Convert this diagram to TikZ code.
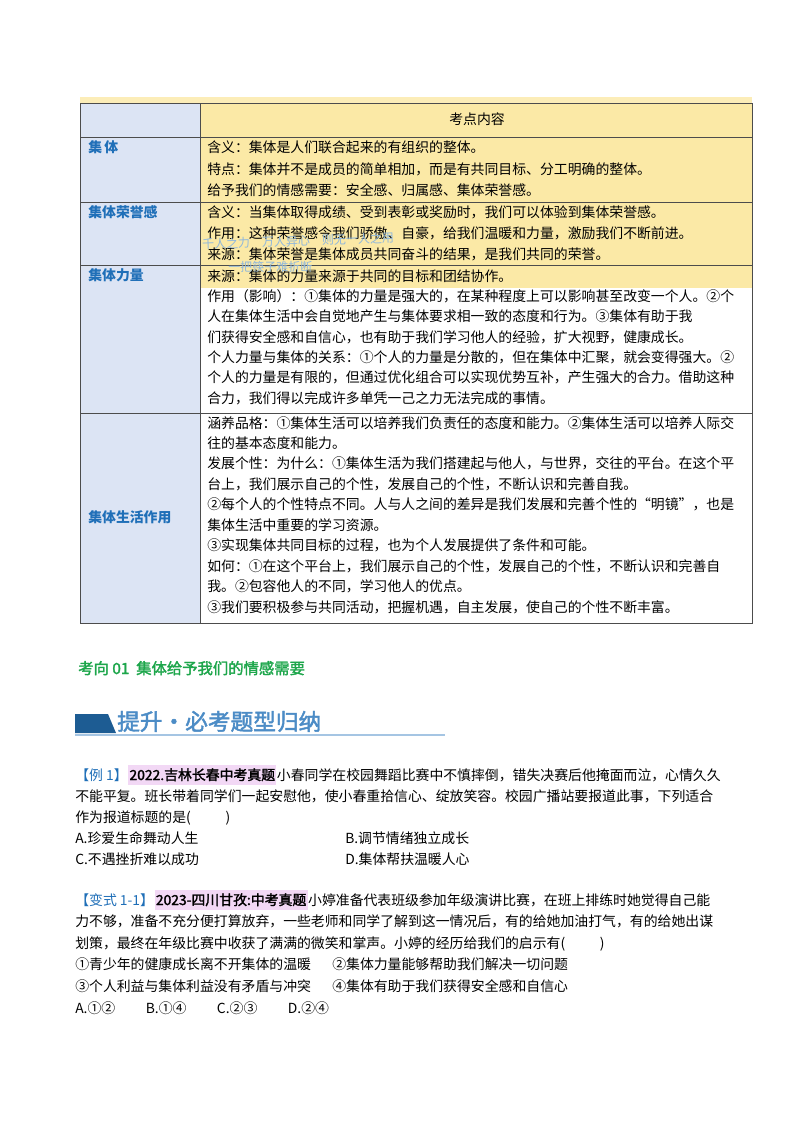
\documentclass[tikz,border=0pt]{standalone}
\usepackage{fontspec}
\setmainfont{Noto Sans CJK SC}
\newfontfamily\cjkb[FakeBold=2]{Noto Sans CJK SC}
\definecolor{tblblue}{HTML}{DCE4F4}
\definecolor{tblyel}{HTML}{FBE9A6}
\definecolor{lblblue}{HTML}{1F6FB8}
\definecolor{headgreen}{HTML}{1DA64B}
\definecolor{bandblue}{HTML}{1D5C93}
\definecolor{pinkhl}{HTML}{F2D8F5}
\tikzset{txt/.style={anchor=base west, inner sep=0pt, font=\fontsize{10.4}{12}\selectfont},
  lbl/.style={txt, text=lblblue, font=\fontsize{10.4}{12}\selectfont\bfseries},
  srcbox/.style={txt, fill=pinkhl, inner ysep=2.5pt, inner xsep=1pt, font=\fontsize{10.4}{12}\selectfont\cjkb}}
\begin{document}
\begin{tikzpicture}[x=0.75pt,y=-0.75pt]
\useasboundingbox[fill=white] (0,0) rectangle (800,1132);
\fill[tblyel!80] (80,97) rectangle (752,103);
\fill[tblblue] (80,103) rectangle (200,623);
\fill[tblyel] (200,103) rectangle (752,288);
\draw[black!70] (80,103) rectangle (752,623);
\draw[black!70] (200,103) -- (200,623);
\draw[black!70] (80,137) -- (752,137);
\draw[black!70] (80,202) -- (752,202);
\draw[black!70] (80,265) -- (752,265);
\draw[black!70] (80,413) -- (752,413);
\node[txt] (head) at (449,124) {考点内容};
\node[lbl] (l1) at (88,152) {集\,体};
\node[lbl] (l2) at (88,217) {集体荣誉感};
\node[lbl] (l3) at (88,280) {集体力量};
\node[lbl] (l4) at (88,522) {集体生活作用};
\node[txt] at (207,152) {含义：集体是人们联合起来的有组织的整体。};
\node[txt] at (207,174) {特点：集体并不是成员的简单相加，而是有共同目标、分工明确的整体。};
\node[txt] at (207,195) {给予我们的情感需要：安全感、归属感、集体荣誉感。};
\node[txt] at (207,217) {含义：当集体取得成绩、受到表彰或奖励时，我们可以体验到集体荣誉感。};
\node[txt] at (207,238) {作用：这种荣誉感令我们骄傲、自豪，给我们温暖和力量，激励我们不断前进。};
\node[txt] at (207,259) {来源：集体荣誉是集体成员共同奋斗的结果，是我们共同的荣誉。};
\node[txt] at (207,281) {来源：集体的力量来源于共同的目标和团结协作。};
\node[txt] at (207,301.3) {作用（影响）：①集体的力量是强大的，在某种程度上可以影响甚至改变一个人。②个};
\node[txt] at (207,321.7) {人在集体生活中会自觉地产生与集体要求相一致的态度和行为。③集体有助于我};
\node[txt] at (207,342) {们获得安全感和自信心，也有助于我们学习他人的经验，扩大视野，健康成长。};
\node[txt] at (207,362.3) {个人力量与集体的关系：①个人的力量是分散的，但在集体中汇聚，就会变得强大。②};
\node[txt] at (207,382.7) {个人的力量是有限的，但通过优化组合可以实现优势互补，产生强大的合力。借助这种};
\node[txt] at (207,403) {合力，我们得以完成许多单凭一己之力无法完成的事情。};
\node[txt] at (207,428) {涵养品格：①集体生活可以培养我们负责任的态度和能力。②集体生活可以培养人际交};
\node[txt] at (207,448.4) {往的基本态度和能力。};
\node[txt] at (207,468.9) {发展个性：为什么：①集体生活为我们搭建起与他人，与世界，交往的平台。在这个平};
\node[txt] at (207,489.3) {台上，我们展示自己的个性，发展自己的个性，不断认识和完善自我。};
\node[txt] at (207,509.8) {②每个人的个性特点不同。人与人之间的差异是我们发展和完善个性的“明镜”，也是};
\node[txt] at (207,530.2) {集体生活中重要的学习资源。};
\node[txt] at (207,550.7) {③实现集体共同目标的过程，也为个人发展提供了条件和可能。};
\node[txt] at (207,571.1) {如何：①在这个平台上，我们展示自己的个性，发展自己的个性，不断认识和完善自};
\node[txt] at (207,591.6) {我。②包容他人的不同，学习他人的优点。};
\node[txt] at (207,612) {③我们要积极参与共同活动，把握机遇，自主发展，使自己的个性不断丰富。};
% handwritten note
\node[txt, text=lblblue!50, rotate=2, font=\fontsize{9}{10}\selectfont] (note1) at (202,249) {千人之力\quad 万人异心\quad 则无一人之用};
\node[txt, text=lblblue!50, font=\fontsize{9}{10}\selectfont] (note2) at (228,271) {一把筷子难折断};
% section heading
\node[txt, text=headgreen, font=\fontsize{11.5}{13}\selectfont\cjkb] (sec) at (78,674) {考向 01\ \ 集体给予我们的情感需要};
\fill[bandblue] (75,714) -- (108,714) -- (116,733) -- (75,733) -- cycle;
\draw[lblblue!40, line width=1pt] (75,735) -- (445,735);
\node[txt, text=lblblue!80, font=\fontsize{17}{20}\selectfont\cjkb] (band) at (117,730) {提升·必考题型归纳};
% example 1
\node[txt, text=lblblue] (ex1) at (75,780) {【例 1】};
\node[srcbox] (src1) at (ex1.base east) {2022.吉林长春中考真题};
\node[txt] at (src1.base east) {小春同学在校园舞蹈比赛中不慎摔倒，错失决赛后他掩面而泣，心情久久};
\node[txt] at (75,801) {不能平复。班长带着同学们一起安慰他，使小春重拾信心、绽放笑容。校园广播站要报道此事，下列适合};
\node[txt] at (75,822) {作为报道标题的是(\hspace{2.5em})};
\node[txt] at (75,843) {A.珍爱生命舞动人生};
\node[txt] at (345,843) {B.调节情绪独立成长};
\node[txt] at (75,864) {C.不遇挫折难以成功};
\node[txt] at (345,864) {D.集体帮扶温暖人心};
% variant 1-1
\node[txt, text=lblblue] (var1) at (75,905) {【变式 1-1】};
\node[srcbox] (src2) at (var1.base east) {2023-四川甘孜:中考真题};
\node[txt] at (src2.base east) {小婷准备代表班级参加年级演讲比赛，在班上排练时她觉得自己能};
\node[txt] at (75,926) {力不够，准备不充分便打算放弃，一些老师和同学了解到这一情况后，有的给她加油打气，有的给她出谋};
\node[txt] at (75,948) {划策，最终在年级比赛中收获了满满的微笑和掌声。小婷的经历给我们的启示有(\hspace{2.5em})};
\node[txt] at (75,969) {①青少年的健康成长离不开集体的温暖};
\node[txt] at (332,969) {②集体力量能够帮助我们解决一切问题};
\node[txt] at (75,991) {③个人利益与集体利益没有矛盾与冲突};
\node[txt] at (332,991) {④集体有助于我们获得安全感和自信心};
\node[txt] at (75,1013) {A.①②\hspace{2.2em}B.①④\hspace{2.2em}C.②③\hspace{2.2em}D.②④};
\end{tikzpicture}
\end{document}
